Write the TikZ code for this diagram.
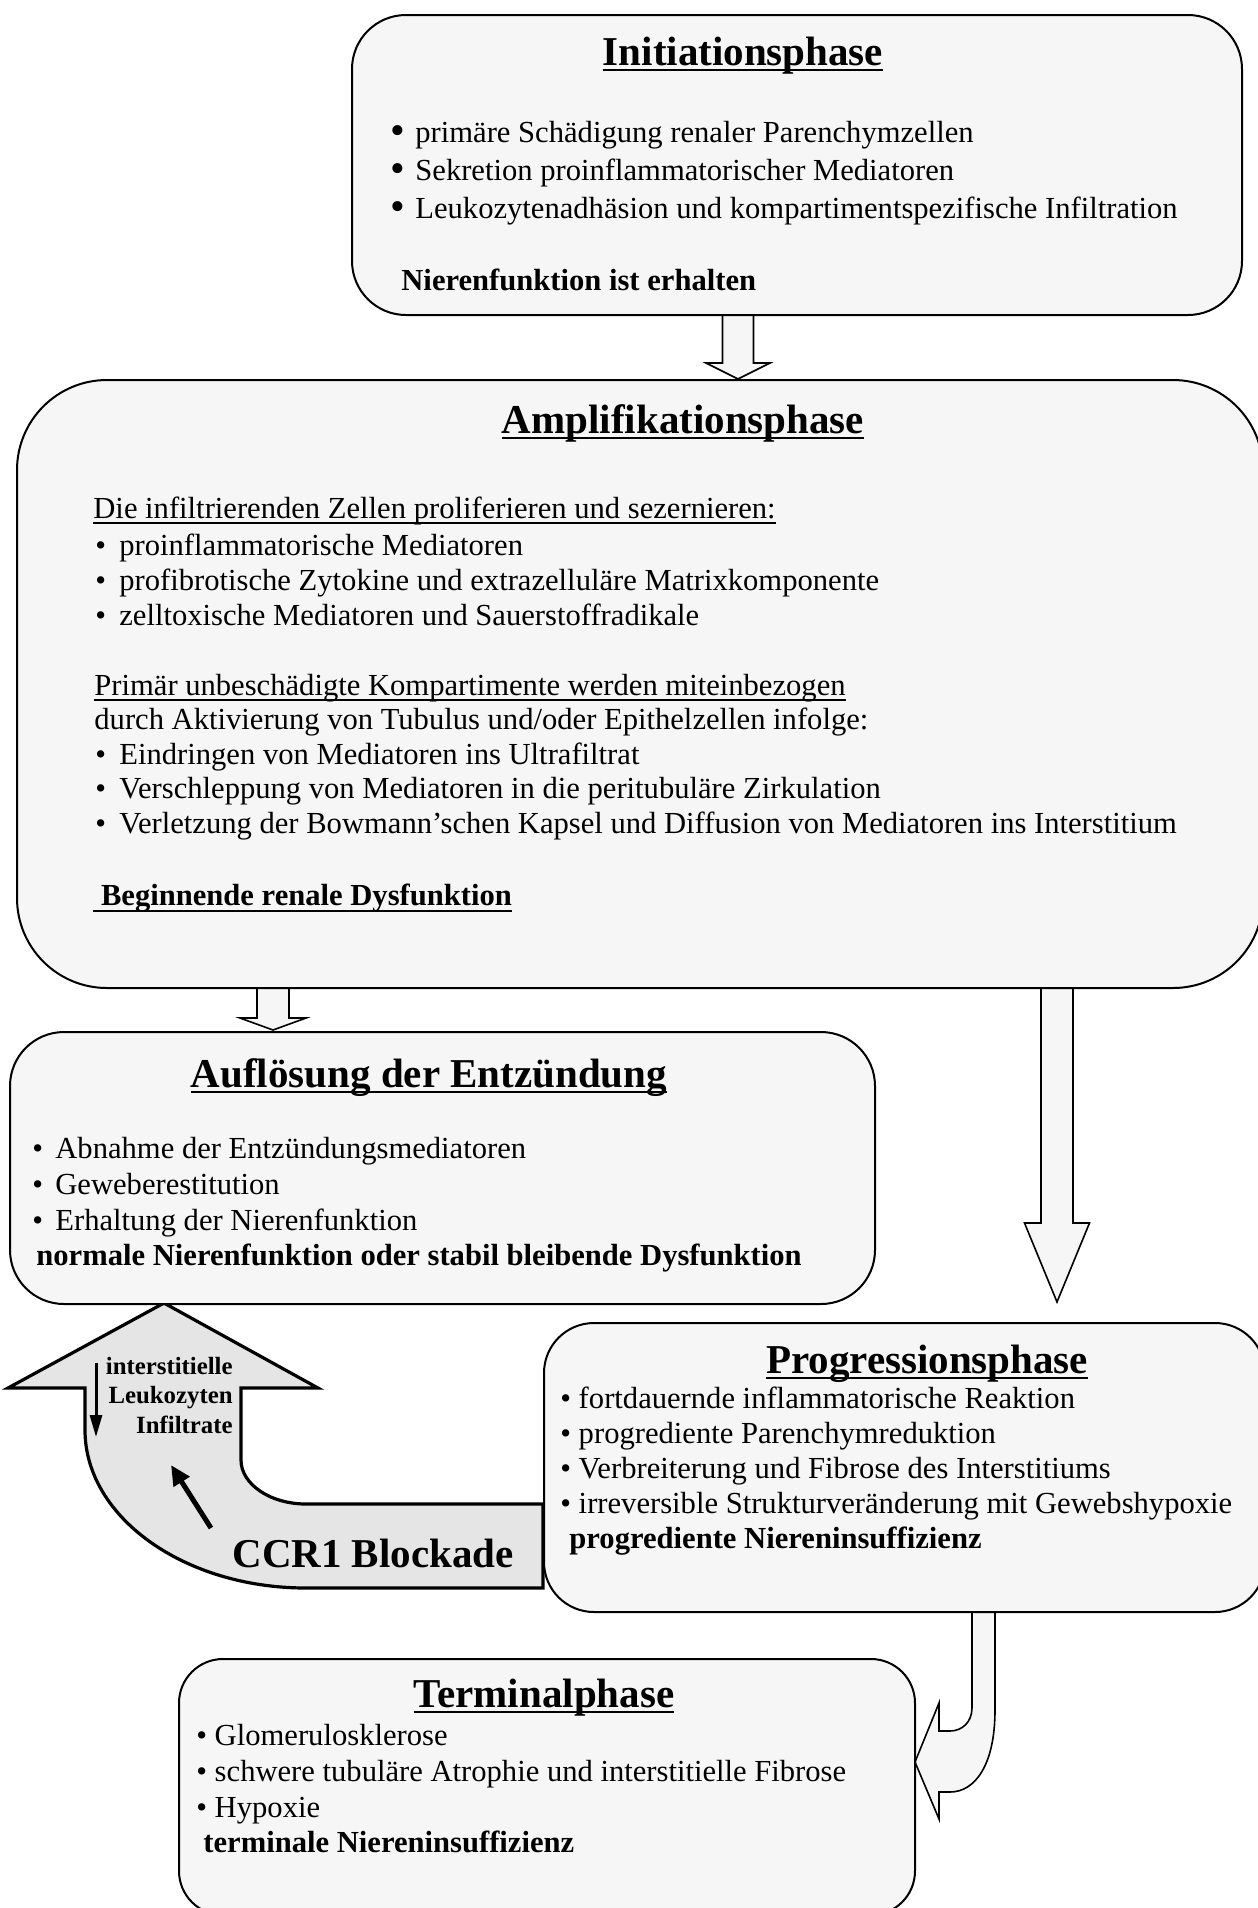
\documentclass[tikz,border=0pt]{standalone}
\usepackage{fontspec}
\setmainfont{Liberation Serif}
\usetikzlibrary{arrows.meta,fit}
\definecolor{boxfill}{gray}{0.965}
\definecolor{ccrfill}{gray}{0.9}
\newcommand\uln[3]{\setbox0=\hbox{#3}\rlap{\rule[-#1]{\wd0}{#2}}\box0}
\newcommand\bul[1]{\makebox[#1][l]{\textbullet}}
\newcommand\bigbul[1]{\makebox[#1][l]{\raisebox{-1pt}{\fontsize{21}{21}\selectfont\textbullet}}}
\newcommand\bodyfont{\fontsize{15.3}{17}\selectfont}
\newcommand\titlefont{\fontsize{20.5}{24}\selectfont\bfseries}
\newcommand\downblock[6]{\draw[blockarrow] (#1-#5,#2) -- (#1-#5,#3) -- (#1-#6,#3) -- (#1,#4) -- (#1+#6,#3) -- (#1+#5,#3) -- (#1+#5,#2);}
\tikzset{
  phasebox/.style={draw,line width=1pt,fill=boxfill,rounded corners=#1},
  blockarrow/.style={draw,line width=0.8pt,fill=boxfill,line join=miter},
  txtline/.style={anchor=base west,font=\bodyfont},
  titletxt/.style={anchor=base,font=\titlefont},
}
\begin{document}
\begin{tikzpicture}[x=0.5pt,y=-0.5pt,every node/.style={inner sep=0pt}]
\useasboundingbox (0,0) rectangle (1258,1908);
\downblock{738}{315}{363}{379}{15.5}{32}
\downblock{273}{988}{1018}{1030}{16}{33}
\downblock{1057}{988}{1223}{1302}{16}{32.5}
\draw[blockarrow] (972,1612) -- (972,1708) .. controls (972,1722) and (962,1731) .. (950,1731) -- (939,1731) -- (939,1703) -- (915,1762) -- (939,1819) -- (939,1792) -- (950,1792) .. controls (975,1792) and (995,1765) .. (995,1710) -- (995,1612);
\draw[line width=1.6pt,fill=ccrfill,line join=miter] (164,1303) -- (318,1388) -- (241,1388) -- (241,1460) .. controls (241,1484) and (270,1504) .. (306,1504) -- (543,1504) -- (543,1588) -- (306,1588) .. controls (184,1588) and (85,1517) .. (85,1430) -- (85,1388) -- (8,1388) -- cycle;

\node[phasebox=27pt,fit={(352,15) (1242,315)}] (init) {};
\node[phasebox=45pt,fit={(17,380) (1263,988)}] (amp) {};
\node[phasebox=27pt,fit={(10,1032) (875,1304)}] (aufl) {};
\node[phasebox=25pt,fit={(544,1323) (1265,1612)}] (prog) {};
\node[phasebox=22pt,fit={(179,1659) (915,1915)}] (term) {};

\node[titletxt] (init-t) at (743,65) {\uln{3.2pt}{1.3pt}{Initiationsphase}};
\foreach \txt [count=\i] in {{primäre Schädigung renaler Parenchymzellen},{Sekretion proinflammatorischer Mediatoren},{Leukozytenadhäsion und kompartimentspezifische Infiltration}}
  \node[txtline] (init-\i) at (390,{142+38*(\i-1)}) {\bigbul{12.5pt}\txt};
\node[txtline,font=\bodyfont\bfseries] (init-f) at (401,290) {Nierenfunktion ist erhalten};

\node[titletxt] (amp-t) at (683,433) {\uln{3.2pt}{1.3pt}{Amplifikationsphase}};
\node[txtline] (amp-h1) at (93,518) {\uln{2.9pt}{0.75pt}{Die infiltrierenden Zellen proliferieren und sezernieren:}};
\foreach \txt [count=\i] in {{proinflammatorische Mediatoren},{profibrotische Zytokine und extrazelluläre Matrixkomponente},{zelltoxische Mediatoren und Sauerstoffradikale}}
  \node[txtline] (amp-a\i) at (95,{555+35*(\i-1)}) {\bul{12pt}\txt};
\node[txtline] (amp-h2) at (94,695) {\uln{2.9pt}{0.75pt}{Primär unbeschädigte Kompartimente werden miteinbezogen}};
\node[txtline] (amp-h3) at (94,729) {durch Aktivierung von Tubulus und/oder Epithelzellen infolge:};
\foreach \txt [count=\i] in {{Eindringen von Mediatoren ins Ultrafiltrat},{Verschleppung von Mediatoren in die peritubuläre Zirkulation},{Verletzung der Bowmann’schen Kapsel und Diffusion von Mediatoren ins Interstitium}}
  \node[txtline] (amp-b\i) at (95,{764+34.5*(\i-1)}) {\bul{12pt}\txt};
\node[txtline,font=\bodyfont\bfseries] (amp-f) at (93,905) {\uln{3.6pt}{1pt}{\ Beginnende renale Dysfunktion}};

\node[titletxt] (aufl-t) at (429,1087) {\uln{3.2pt}{1.3pt}{Auflösung der Entzündung}};
\foreach \txt [count=\i] in {{Abnahme der Entzündungsmediatoren},{Geweberestitution},{Erhaltung der Nierenfunktion}}
  \node[txtline] (aufl-\i) at (32,{1158+36*(\i-1)}) {\bul{11.5pt}\txt};
\node[txtline,font=\bodyfont\bfseries] (aufl-f) at (36,1265) {normale Nierenfunktion oder stabil bleibende Dysfunktion};

\node[titletxt] (prog-t) at (927,1373) {\uln{3.2pt}{1.3pt}{Progressionsphase}};
\foreach \txt [count=\i] in {{fortdauernde inflammatorische Reaktion},{progrediente Parenchymreduktion},{Verbreiterung und Fibrose des Interstitiums},{irreversible Strukturveränderung mit Gewebshypoxie}}
  \node[txtline] (prog-\i) at (560,{1408+35*(\i-1)}) {\textbullet\ \txt};
\node[txtline,font=\bodyfont\bfseries] (prog-f) at (569,1548) {progrediente Niereninsuffizienz};

\node[titletxt] (term-t) at (544,1707) {\uln{3.2pt}{1.3pt}{Terminalphase}};
\foreach \txt [count=\i] in {{Glomerulosklerose},{schwere tubuläre Atrophie und interstitielle Fibrose},{Hypoxie}}
  \node[txtline] (term-\i) at (196,{1745+36*(\i-1)}) {\textbullet\ \txt};
\node[txtline,font=\bodyfont\bfseries] (term-f) at (203,1852) {terminale Niereninsuffizienz};

\foreach \txt [count=\i] in {interstitielle,Leukozyten,Infiltrate}
  \node[anchor=base east,font=\fontsize{12.4}{14}\selectfont\bfseries] (infl-\i) at (233,{1374+29.5*(\i-1)}) {\txt};
\node[anchor=base west,font=\titlefont] (ccr) at (232,1567) {CCR1 Blockade};
\coordinate (lk-a) at (96,1363);
\coordinate (lk-b) at (96,1437);
\coordinate (bl-a) at (211,1528);
\coordinate (bl-b) at (171,1465);
\draw[line width=1.5pt,-{Triangle[length=11pt,width=6pt]}] (lk-a) -- (lk-b);
\draw[line width=2.5pt,-{Triangle[length=10pt,width=9pt]}] (bl-a) -- (bl-b);
\end{tikzpicture}
\end{document}
